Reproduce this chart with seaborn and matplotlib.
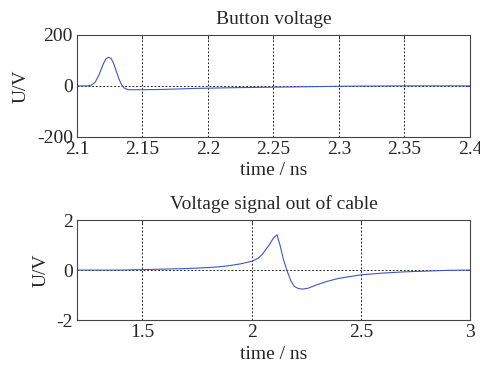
import matplotlib
matplotlib.use("Agg")
import matplotlib.pyplot as plt
import seaborn as sns
import pandas as pd

# Button voltage pulse (time in ns, voltage in V)
t_button = [2.100, 2.108, 2.111, 2.114, 2.117, 2.120, 2.122, 2.124, 2.126,
            2.128, 2.130, 2.132, 2.134, 2.136, 2.138, 2.140, 2.150, 2.165,
            2.190, 2.220, 2.250, 2.280, 2.310, 2.350, 2.400]
v_button = [0, 0, 3, 15, 45, 85, 105, 112, 108,
            88, 58, 28, 5, -8, -13, -15, -15, -14,
            -10, -7, -5, -3, -1, 0, 0]

# Voltage signal at the cable output
t_cable = [1.20, 1.40, 1.50, 1.60, 1.70, 1.80, 1.85, 1.90, 1.95, 2.00,
           2.03, 2.05, 2.08, 2.10, 2.116, 2.13, 2.145, 2.161, 2.18, 2.195,
           2.215, 2.235, 2.26, 2.30, 2.35, 2.40, 2.50, 2.60, 2.70, 2.80,
           2.90, 3.00]
v_cable = [0.0, 0.0, 0.02, 0.04, 0.06, 0.10, 0.13, 0.18, 0.25, 0.35,
           0.47, 0.64, 1.0, 1.28, 1.41, 1.0, 0.45, 0.0, -0.43, -0.65,
           -0.74, -0.76, -0.72, -0.58, -0.44, -0.33, -0.19, -0.12, -0.07, -0.04,
           -0.01, 0.0]

button_xticks = [2.1, 2.15, 2.2, 2.25, 2.3, 2.35, 2.4]
button_xlabels = ["2.1", "2.15", "2.2", "2.25", "2.3", "2.35", "2.4"]
button_yticks = [-200, 0, 200]
cable_xticks = [1.5, 2, 2.5, 3]
cable_xlabels = ["1.5", "2", "2.5", "3"]
cable_yticks = [-2, 0, 2]

sns.set_style("white")
plt.rcParams["font.family"] = ["Liberation Serif", "DejaVu Serif"]
plt.rcParams["font.size"] = 14

line_color = "#3a58c4"

fig = plt.figure(figsize=(4.81, 3.71), dpi=100)
ax1 = fig.add_axes([0.160, 0.631, 0.817, 0.275])
ax2 = fig.add_axes([0.160, 0.137, 0.817, 0.270])

df_button = pd.DataFrame({"t": t_button, "v": v_button})
df_cable = pd.DataFrame({"t": t_cable, "v": v_cable})

sns.lineplot(data=df_button, x="t", y="v", ax=ax1, color=line_color,
             linewidth=0.8, estimator=None, sort=False)
sns.lineplot(data=df_cable, x="t", y="v", ax=ax2, color=line_color,
             linewidth=0.8, estimator=None, sort=False)


def style_axes(ax, xlim, ylim, xticks, xlabels, yticks, title):
    ax.set_xlim(*xlim)
    ax.set_ylim(*ylim)
    ax.set_xticks(xticks)
    ax.set_xticklabels(xlabels)
    ax.set_yticks(yticks)
    ax.set_yticklabels([str(v) for v in yticks])
    ax.set_title(title, fontsize=14, pad=8)
    ax.set_xlabel("time / ns", fontsize=14, labelpad=3)
    ax.set_ylabel("U/V", fontsize=14, labelpad=5)
    ax.grid(True, color="black", linestyle=(0, (2.2, 2.2)), linewidth=0.6)
    ax.tick_params(direction="in", length=3, width=0.6, labelsize=14,
                   top=True, right=True, pad=3)
    for s in ax.spines.values():
        s.set_visible(True)
        s.set_color("#444444")
        s.set_linewidth(0.8)


style_axes(ax1, (2.1, 2.4), (-200, 200), button_xticks, button_xlabels,
           button_yticks, "Button voltage")
style_axes(ax2, (1.2, 3.0), (-2, 2), cable_xticks, cable_xlabels,
           cable_yticks, "Voltage signal out of cable")

fig.savefig("out.png", dpi=100, facecolor="white")
